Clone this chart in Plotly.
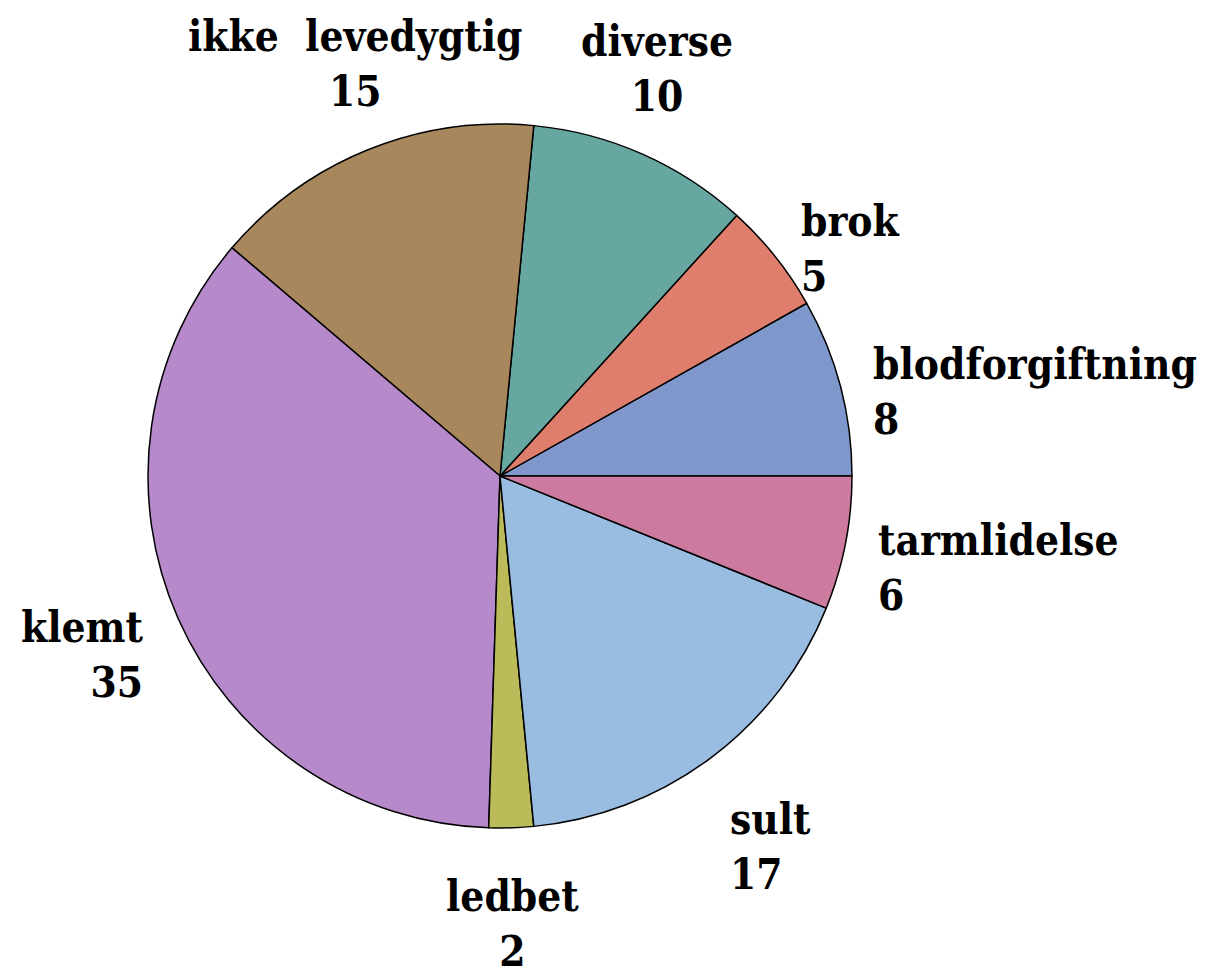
import math
import plotly.graph_objects as go

labels = ["blodforgiftning", "brok", "diverse", "ikke  levedygtig", "klemt", "ledbet", "sult", "tarmlidelse"]
values = [8, 5, 10, 15, 35, 2, 17, 6]
colors = ["#7f97ca", "#e07e6e", "#66a8a1", "#a8875d", "#b689ca", "#bbbb5a", "#98bde1", "#cd7a9f"]

# page body has an 8px margin, so the figure is drawn 8px smaller and shifted
OFF = 8
W, H = 1210 - OFF, 975 - OFF
cx, cy, R = 500 - OFF, 476 - OFF, 352

total = sum(values)
fig = go.Figure(go.Pie(
    labels=labels, values=values, sort=False, direction="counterclockwise",
    rotation=90 - values[0] / total * 360,
    marker=dict(colors=colors, line=dict(color="black", width=1.5)),
    textinfo="none", hoverinfo="label+value", showlegend=False,
    domain=dict(x=[(cx - R) / W, (cx + R) / W], y=[(H - cy - R) / H, (H - cy + R) / H]),
))

cum = 0
ann = []
for lab, v in zip(labels, values):
    mid = (cum + v / 2) / total * 2 * math.pi
    cum += v
    c, s = math.cos(mid), math.sin(mid)
    px = cx + 1.1 * R * c
    py = cy - 1.1 * R * s
    xa = "left" if c > 0.45 else ("right" if c < -0.45 else "center")
    if s > 0.85:
        ya, shift = "bottom", -1
    elif s < -0.75:
        ya, shift = "top", -7
    else:
        ya, shift = "middle", -14 + 20 * min(s, 0)
    ann.append(dict(x=px / W, y=1 - py / H, xref="paper", yref="paper", text=f"{lab}<br>{v}",
                    showarrow=False, xanchor=xa, yanchor=ya, align=xa, xshift=-4 if xa == "left" else 0,
                    yshift=shift, font=dict(family="DejaVu Serif Condensed", size=42, color="black", weight="bold")))

fig.update_layout(width=W, height=H, margin=dict(l=0, r=0, t=0, b=0),
                  paper_bgcolor="white", plot_bgcolor="white", annotations=ann)
fig.write_html("out.html")
